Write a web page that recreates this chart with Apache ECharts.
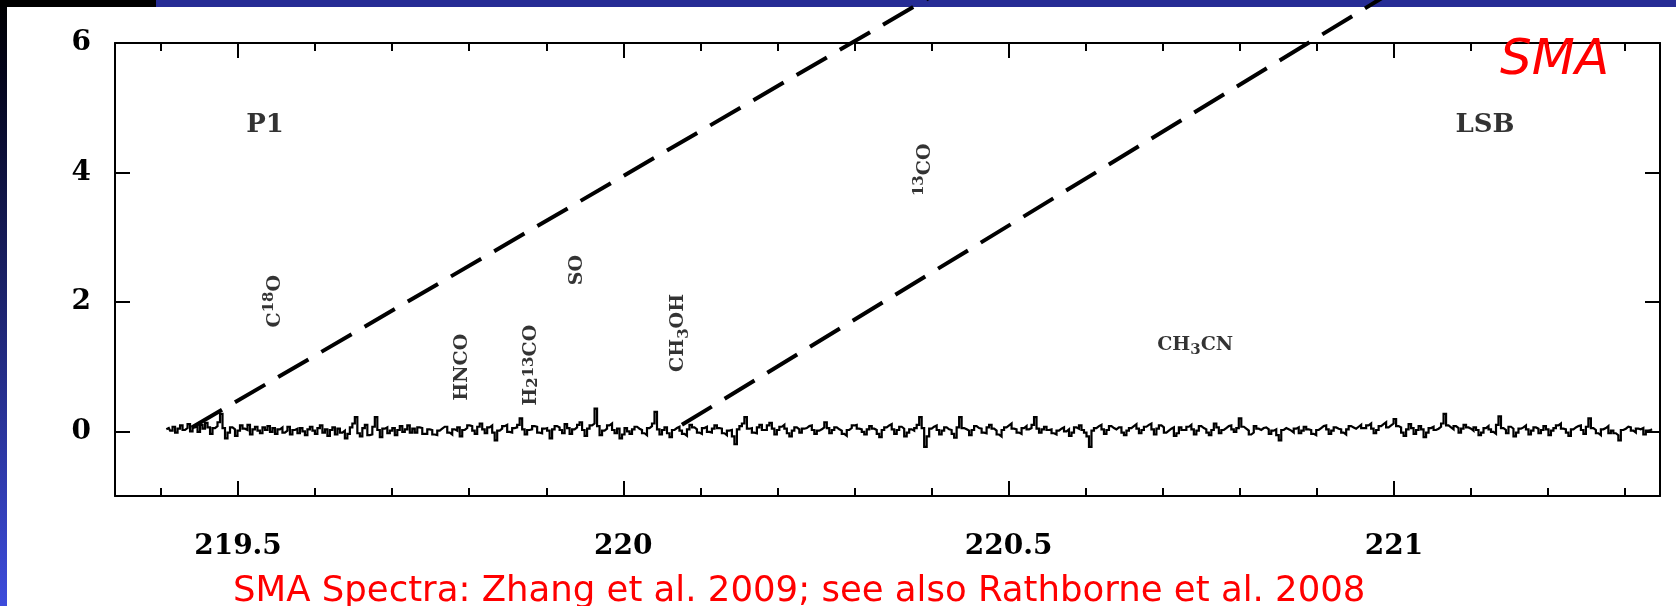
<!DOCTYPE html>
<html>
<head>
<meta charset="utf-8">
<script src="https://cdn.jsdelivr.net/npm/echarts@6/dist/echarts.min.js"></script>
<style>
html,body{margin:0;padding:0;background:#fff;}
#c{width:1676px;height:606px;}
</style>
</head>
<body>
<div id="c"></div>
<script>
// ---------------- data ----------------
const xMajorTicks = [219.5, 220, 220.5, 221];
const xTickLabels = ['219.5', '220', '220.5', '221'];
const xMinorTicks = [219.4, 219.5, 219.6, 219.7, 219.8, 219.9, 220.0, 220.1, 220.2, 220.3, 220.4,
                     220.5, 220.6, 220.7, 220.8, 220.9, 221.0, 221.1, 221.2, 221.3];
const yTicks = [0, 2, 4, 6];
const yTickLabels = ['0', '2', '4', '6'];

// spectrum (GHz grid start / channel width) and intensities
const specStart = 219.407;
const specStep = 0.00324;
const specValues = [
  0.03, 0.05, 0.01, 0.07, -0.02, 0.04, 0.09, 0.02, 0.05, 0.11, 0.00, 0.06, 0.08, -0.01, 0.10, 0.04, 0.13, 0.06, -0.04, 0.05,
  0.08, 0.14, 0.27, 0.05, -0.11, -0.02, 0.06, 0.03, -0.07, 0.01, 0.09, 0.04, 0.02, 0.10, -0.05, 0.03, 0.07, 0.01, -0.03, 0.06,
  0.02, 0.08, -0.01, 0.05, -0.04, 0.03, 0.06, -0.02, 0.01, 0.07, -0.05, 0.02, 0.04, -0.03, 0.05, 0.00, -0.06, 0.03, 0.07, 0.01,
  -0.04, 0.05, 0.09, -0.02, 0.03, -0.07, 0.02, 0.06, -0.05, 0.04, -0.02, 0.01, -0.11, -0.04, 0.06, 0.12, 0.22, -0.03, -0.08, 0.05,
  0.10, -0.06, -0.05, 0.07, 0.22, 0.02, -0.09, 0.04, 0.06, -0.03, 0.01, 0.05, -0.06, 0.02, 0.08, -0.01, 0.03, 0.09, -0.02, 0.04,
  -0.02, 0.06, 0.05, -0.04, -0.04, 0.03, 0.02, -0.05, -0.06, 0.01, 0.04, 0.07, 0.07, -0.02, -0.05, 0.03, 0.01, 0.06, -0.08, 0.02,
  0.05, 0.09, 0.08, 0.01, -0.04, 0.07, 0.12, 0.03, -0.03, 0.06, 0.09, -0.02, -0.14, 0.01, 0.04, 0.08, 0.10, -0.01, -0.02, 0.05,
  0.06, 0.10, 0.20, 0.03, -0.05, 0.02, 0.03, 0.08, 0.07, -0.02, -0.03, 0.04, 0.05, 0.01, -0.11, 0.03, 0.08, 0.06, 0.02, -0.03,
  0.11, 0.05, -0.04, 0.03, 0.06, 0.10, 0.14, 0.02, -0.07, 0.04, 0.09, 0.12, 0.35, 0.08, -0.06, 0.01, 0.04, 0.09, 0.12, 0.02,
  -0.03, 0.04, -0.11, -0.05, 0.05, 0.00, -0.04, 0.03, 0.07, 0.04, 0.02, -0.03, -0.06, 0.05, 0.08, 0.12, 0.30, 0.03, -0.05, 0.02,
  0.06, -0.03, -0.09, 0.02, 0.05, 0.07, 0.01, -0.04, -0.07, 0.03, 0.10, 0.06, 0.03, -0.02, -0.04, 0.05, 0.07, -0.01, -0.02, 0.04,
  0.09, 0.05, 0.04, -0.03, -0.06, 0.01, 0.02, -0.08, -0.20, 0.03, 0.08, 0.12, 0.22, 0.04, 0.05, -0.02, -0.03, 0.06, 0.10, 0.02,
  0.02, 0.09, 0.13, 0.04, -0.05, 0.02, 0.07, 0.10, 0.04, -0.03, -0.08, 0.01, 0.06, 0.03, -0.02, 0.04, 0.05, 0.08, 0.09, 0.02,
  -0.04, 0.01, 0.03, 0.06, 0.14, 0.05, -0.03, 0.02, 0.06, 0.03, 0.01, -0.04, -0.07, 0.02, 0.05, 0.09, 0.10, 0.04, 0.03, -0.01,
  -0.05, 0.03, 0.08, 0.04, 0.02, -0.04, -0.09, 0.02, 0.06, 0.09, 0.11, 0.03, -0.04, 0.02, 0.07, 0.04, -0.08, -0.02, 0.03, 0.01,
  0.05, 0.10, 0.22, 0.05, -0.24, -0.08, 0.04, 0.07, 0.09, 0.02, -0.05, 0.01, 0.06, 0.03, 0.02, -0.04, -0.10, 0.06, 0.22, 0.05,
  0.03, 0.01, -0.06, 0.02, 0.08, 0.05, 0.04, -0.02, -0.03, 0.06, 0.10, 0.04, 0.01, -0.05, -0.08, 0.02, 0.06, 0.09, 0.12, 0.04,
  0.03, -0.02, -0.04, 0.05, 0.08, 0.03, 0.05, 0.10, 0.22, 0.04, -0.02, 0.03, 0.07, 0.02, 0.03, -0.03, -0.05, 0.01, 0.04, 0.06,
  0.00, 0.03, -0.07, -0.02, 0.06, 0.04, 0.09, 0.02, -0.02, -0.08, -0.24, 0.01, 0.05, 0.08, 0.10, 0.03, -0.04, 0.02, 0.08, 0.05,
  0.03, 0.06, 0.06, -0.02, -0.06, 0.01, 0.05, 0.08, 0.11, 0.04, -0.03, 0.02, 0.07, 0.10, 0.12, 0.03, -0.05, 0.04, 0.09, 0.06,
  -0.02, 0.01, 0.04, 0.06, -0.07, -0.03, 0.06, 0.02, 0.02, 0.07, 0.10, 0.03, -0.05, 0.01, 0.08, 0.05, 0.03, -0.02, -0.06, 0.02,
  0.12, 0.06, -0.03, 0.02, 0.05, 0.08, 0.09, 0.03, -0.01, 0.05, 0.20, 0.07, 0.04, 0.01, -0.05, -0.02, 0.08, 0.04, 0.02, 0.05,
  0.06, 0.03, -0.04, 0.01, 0.03, -0.06, -0.14, 0.02, 0.05, 0.03, 0.01, -0.02, 0.04, 0.06, -0.03, 0.01, 0.07, 0.03, 0.02, -0.04,
  -0.06, 0.02, 0.05, 0.08, 0.09, 0.03, -0.04, 0.01, 0.06, 0.04, 0.03, -0.02, -0.05, 0.03, 0.08, 0.06, 0.04, 0.07, 0.10, 0.05,
  0.05, 0.09, 0.12, 0.04, -0.03, 0.02, 0.08, 0.11, 0.14, 0.06, 0.09, 0.12, 0.19, 0.08, 0.06, -0.02, -0.07, 0.03, 0.11, 0.05,
  -0.04, 0.02, 0.08, 0.03, -0.09, -0.02, 0.05, 0.07, 0.02, 0.04, 0.07, 0.12, 0.27, 0.09, 0.06, 0.03, 0.08, 0.05, -0.02, 0.04,
  0.10, 0.06, 0.04, 0.01, 0.06, 0.02, -0.06, -0.02, 0.05, 0.08, 0.03, -0.01, -0.04, 0.10, 0.23, 0.05, 0.02, -0.03, 0.07, 0.04,
  -0.08, -0.02, 0.04, 0.06, 0.09, 0.03, -0.05, 0.01, 0.06, 0.04, -0.03, 0.02, 0.08, 0.03, -0.06, 0.01, 0.05, 0.09, 0.12, 0.04,
  0.03, -0.02, -0.07, 0.03, 0.06, 0.08, 0.09, 0.02, -0.04, 0.07, 0.20, 0.05, 0.02, -0.03, -0.06, 0.03, 0.05, 0.08, -0.03, 0.01,
  -0.03, -0.06, -0.14, 0.02, 0.04, 0.07, 0.06, 0.01, -0.02, 0.04, 0.03, 0.05, -0.05, 0.01, 0.02, 0.03
];

// the two slanted dashed lines (GHz, intensity)
const dashAFreq = [219.440, 220.397];
const dashAInt  = [0.06, 6.7];
const dashBFreq = [220.076, 220.985];
const dashBInt  = [0.10, 6.7];

// molecular line labels (^..^ superscript, _.._ subscript)
const lineNames  = ['C^18^O', 'HNCO', 'H_2_^13^CO', 'SO', 'CH_3_OH', '^13^CO', 'CH_3_CN'];
const lineFreqs  = [219.543, 219.791, 219.880, 219.940, 220.076, 220.386, 220.742];
const lineLevels = [2.01, 0.99, 1.02, 2.49, 1.52, 4.04, 1.28];

const panelNames  = ['P1', 'LSB'];
const panelFreqs  = [219.535, 221.118];
const panelLevels = [4.73, 4.73];

const titleText = 'SMA';
const footerText = 'SMA Spectra: Zhang et al. 2009; see also Rathborne et al. 2008';

// ---------------- chart ----------------
const horizontalLines = ['CH_3_CN'];
const X_MIN = 219.3404, X_MAX = 221.3451;

function toRich(s) {
  const hasSup = s.indexOf('^') >= 0, hasSub = s.indexOf('_') >= 0;
  const nKey = hasSup && hasSub ? 'nUD' : hasSup ? 'nU' : hasSub ? 'nD' : 'n';
  const re = /\^(\d+)\^|_(\d+)_|([^\^_]+)/g;
  let out = '', m;
  while ((m = re.exec(s))) {
    if (m[1]) out += '{sup|' + m[1] + '}';
    else if (m[2]) out += '{sub|' + m[2] + '}';
    else out += '{' + nKey + '|' + m[3] + '}';
  }
  return out;
}

const serif = '"DejaVu Serif", "Liberation Serif", serif';
const FS = 19;
const base = { fontFamily: serif, fontSize: FS, fontWeight: 'bold', lineHeight: FS, color: '#000' };
const richStyles = {
  n:   Object.assign({}, base),
  nU:  Object.assign({}, base, { padding: [8, 0, 0, 0] }),
  nD:  Object.assign({}, base, { padding: [0, 0, 7, 0] }),
  nUD: Object.assign({}, base, { padding: [8, 0, 7, 0] }),
  sup: { fontFamily: serif, fontSize: 15, fontWeight: 'bold', lineHeight: 15, color: '#000', verticalAlign: 'top' },
  sub: { fontFamily: serif, fontSize: 15, fontWeight: 'bold', lineHeight: 15, color: '#000', verticalAlign: 'bottom' },
  big: { fontFamily: serif, fontSize: 26, fontWeight: 'bold', lineHeight: 30, color: '#000' }
};

const lineLabelData = lineNames.map((nm, i) => ({
  value: [lineFreqs[i], lineLevels[i]],
  label: { formatter: toRich(nm), rotate: horizontalLines.indexOf(nm) >= 0 ? 0 : 90 }
}));
const panelLabelData = panelNames.map((nm, i) => ({
  value: [panelFreqs[i], panelLevels[i]],
  label: { formatter: '{big|' + nm + '}', rotate: 0 }
}));

function labelFor(v, ticks, labels) {
  for (let i = 0; i < ticks.length; i++) if (Math.abs(ticks[i] - v) < 1e-6) return labels[i];
  return '';
}

const axisLineStyle = { color: '#000', width: 2 };
const tickFont = { fontFamily: serif, fontSize: 28, fontWeight: 'bold', color: '#000' };

const chart = echarts.init(document.getElementById('c'), null, { renderer: 'canvas' });
chart.setOption({
  animation: false,
  backgroundColor: '#fff',
  grid: { left: 115, right: 16, top: 43, bottom: 110, containLabel: false, outerBoundsMode: 'none' },
  xAxis: [
    { type: 'value', position: 'bottom', min: X_MIN, max: X_MAX,
      axisLine: { show: true, onZero: false, lineStyle: axisLineStyle },
      axisTick: { show: true, inside: true, length: 15, customValues: xMajorTicks, lineStyle: axisLineStyle },
      axisLabel: Object.assign({ show: true, margin: 37, customValues: xMajorTicks,
        formatter: v => labelFor(v, xMajorTicks, xTickLabels) }, tickFont),
      splitLine: { show: false } },
    { type: 'value', position: 'bottom', min: X_MIN, max: X_MAX,
      axisLine: { show: false, onZero: false },
      axisTick: { show: true, inside: true, length: 8, customValues: xMinorTicks, lineStyle: axisLineStyle },
      axisLabel: { show: false }, splitLine: { show: false } },
    { type: 'value', position: 'top', min: X_MIN, max: X_MAX,
      axisLine: { show: true, onZero: false, lineStyle: axisLineStyle },
      axisTick: { show: true, inside: true, length: 15, customValues: xMajorTicks, lineStyle: axisLineStyle },
      axisLabel: { show: false }, splitLine: { show: false } },
    { type: 'value', position: 'top', min: X_MIN, max: X_MAX,
      axisLine: { show: false, onZero: false },
      axisTick: { show: true, inside: true, length: 8, customValues: xMinorTicks, lineStyle: axisLineStyle },
      axisLabel: { show: false }, splitLine: { show: false } }
  ],
  yAxis: [
    { type: 'value', position: 'left', min: -1, max: 6,
      axisLine: { show: true, onZero: false, lineStyle: axisLineStyle },
      axisTick: { show: true, inside: true, length: 15, customValues: yTicks, lineStyle: axisLineStyle },
      axisLabel: Object.assign({ show: true, margin: 24, customValues: yTicks,
        formatter: v => labelFor(v, yTicks, yTickLabels) }, tickFont),
      splitLine: { show: false } },
    { type: 'value', position: 'right', min: -1, max: 6,
      axisLine: { show: true, onZero: false, lineStyle: axisLineStyle },
      axisTick: { show: true, inside: true, length: 15, customValues: yTicks, lineStyle: axisLineStyle },
      axisLabel: { show: false }, splitLine: { show: false } }
  ],
  series: [
    { type: 'line', name: 'dashA', xAxisIndex: 0, yAxisIndex: 0, clip: false, z: 5,
      symbol: 'none', silent: true,
      data: dashAFreq.map((f, i) => [f, dashAInt[i]]),
      lineStyle: { color: '#000', width: 4, type: [35, 15], cap: 'butt' } },
    { type: 'line', name: 'dashB', xAxisIndex: 0, yAxisIndex: 0, clip: false, z: 5,
      symbol: 'none', silent: true,
      data: dashBFreq.map((f, i) => [f, dashBInt[i]]),
      lineStyle: { color: '#000', width: 4, type: [35, 15], cap: 'butt' } },
    { type: 'line', name: 'spectrum', xAxisIndex: 0, yAxisIndex: 0, z: 4, step: 'middle',
      symbol: 'none', silent: true,
      data: specValues.map((v, i) => [specStart + i * specStep, v]),
      lineStyle: { color: '#000', width: 2.2, join: 'miter' } },
    { type: 'scatter', name: 'labels', xAxisIndex: 0, yAxisIndex: 0, symbolSize: 1, silent: true, z: 6,
      itemStyle: { color: 'rgba(0,0,0,0)' },
      label: { show: true, position: 'inside', align: 'center', verticalAlign: 'middle', rich: richStyles },
      data: lineLabelData.concat(panelLabelData) }
  ],
  graphic: [
    { type: 'rect', z: 0, silent: true, shape: { x: 0, y: 0, width: 7, height: 606 },
      style: { fill: new echarts.graphic.LinearGradient(0, 0, 0, 1, [
        { offset: 0, color: '#000000' }, { offset: 0.12, color: '#03041a' }, { offset: 1, color: '#3d4cdc' }]) } },
    { type: 'rect', z: 0, silent: true, shape: { x: 0, y: 0, width: 156, height: 7 }, style: { fill: '#000' } },
    { type: 'rect', z: 0, silent: true, shape: { x: 156, y: 0, width: 1520, height: 7 }, style: { fill: '#262c95' } },
    { type: 'text', z: 10, silent: true, left: 1500, top: 36,
      style: { text: titleText, fill: '#ff0000', font: 'italic 50px "DejaVu Sans", sans-serif' } },
    { type: 'text', z: 10, silent: true, left: 233, top: 574,
      style: { text: footerText, fill: '#ff0000', font: '35.5px "DejaVu Sans", sans-serif' } }
  ]
});
</script>
</body>
</html>
